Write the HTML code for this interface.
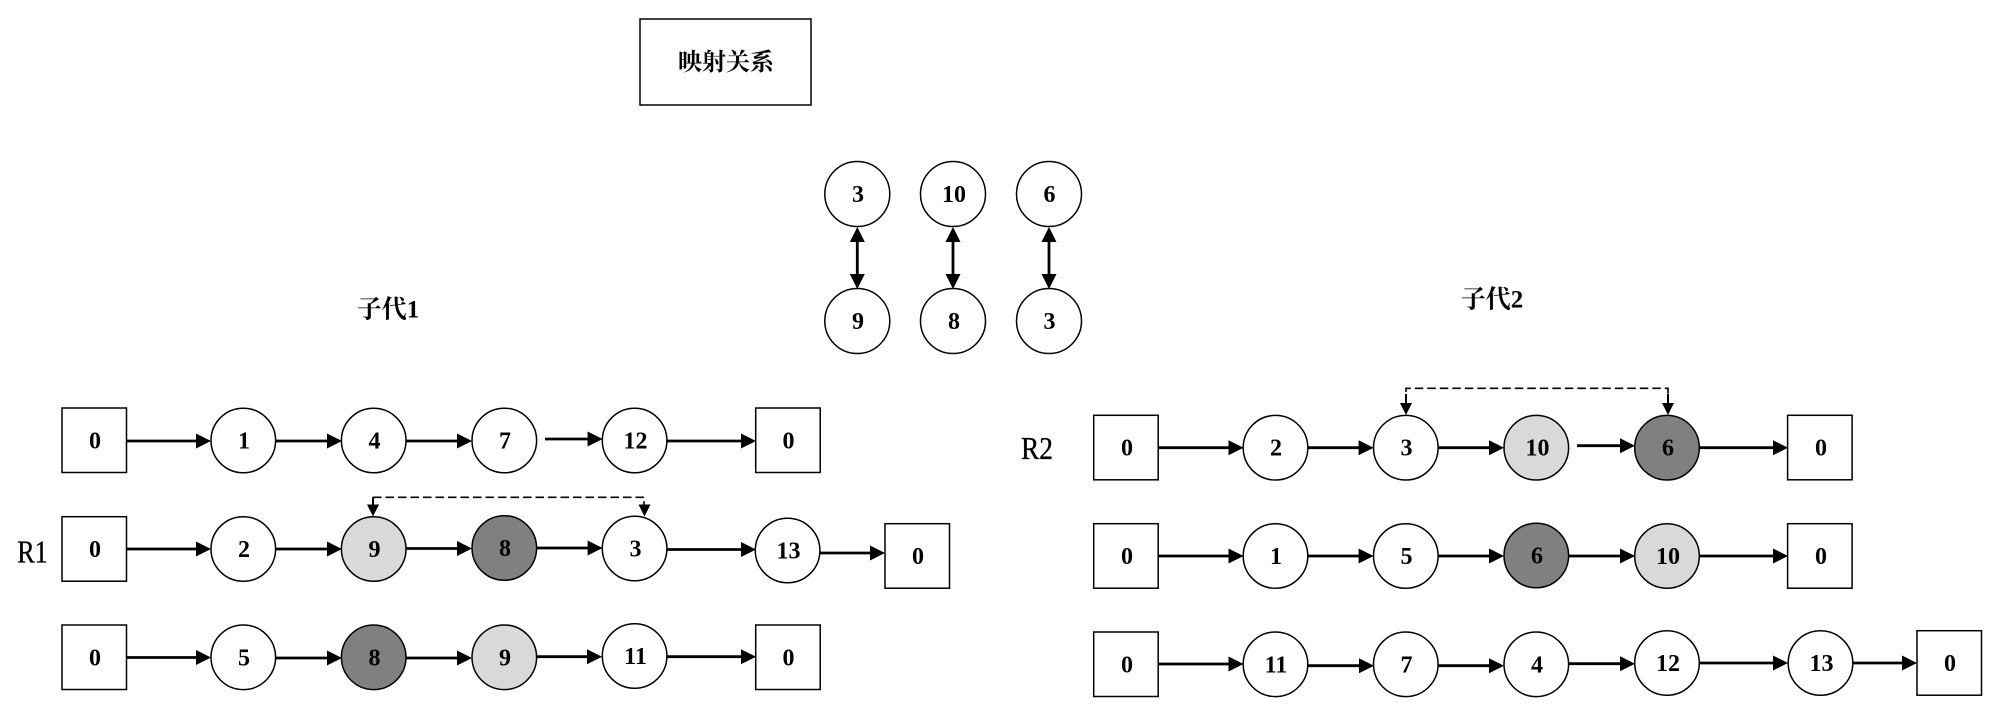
<!DOCTYPE html>
<html lang="zh">
<head>
<meta charset="utf-8">
<style>
html,body{margin:0;padding:0;background:#fff;width:2000px;height:713px;overflow:hidden}
svg{display:block}
text{font-family:"Liberation Serif","Noto Serif CJK SC",serif;fill:#000;text-anchor:middle;dominant-baseline:central;font-weight:bold;font-size:24px;transform:translateY(1px)}
.c{stroke:#000;stroke-width:1.5;fill:#fff}
.l{fill:#d9d9d9}.d{fill:#808080}
.r{stroke:#000;stroke-width:1.5;fill:#fff}
.a{stroke:#000;stroke-width:2.8;fill:none;marker-end:url(#h)}
.b{stroke:#000;stroke-width:2.8;fill:none;marker-end:url(#h2);marker-start:url(#h2s)}
.ds{stroke:#000;stroke-width:1.6;fill:none;stroke-dasharray:8.5 4}
.big{font-weight:normal;font-size:32px;stroke:#000;stroke-width:.35}
</style>
</head>
<body>
<svg width="2000" height="713" viewBox="0 0 2000 713" xmlns="http://www.w3.org/2000/svg">
<defs>
<marker id="h" markerUnits="userSpaceOnUse" markerWidth="16" markerHeight="16" refX="11" refY="7.5" orient="auto"><path d="M0 0L15 7.5L0 15Z" fill="#000"/></marker>
<marker id="h2" markerUnits="userSpaceOnUse" markerWidth="16" markerHeight="16" refX="10" refY="7.5" orient="auto"><path d="M0 0L15 7.5L0 15Z" fill="#000"/></marker>
<marker id="h2s" markerUnits="userSpaceOnUse" markerWidth="16" markerHeight="16" refX="5" refY="7.5" orient="auto"><path d="M15 0L0 7.5L15 15Z" fill="#000"/></marker>
</defs>

<!-- mapping box -->
<rect class="r" x="640" y="19" width="171" height="86"/>
<text x="726" y="61.8" style="font-size:24px">映射关系</text>

<line class="b" x1="857.3" y1="232" x2="857.3" y2="284"/>
<line class="b" x1="953" y1="232" x2="953" y2="284"/>
<line class="b" x1="1049" y1="232" x2="1049" y2="284"/>
<circle class="c" cx="857.3" cy="194" r="32.5"/><text x="858" y="194">3</text>
<circle class="c" cx="953" cy="194" r="32.5"/><text x="954" y="194">10</text>
<circle class="c" cx="1049" cy="194" r="32.5"/><text x="1049.5" y="194">6</text>
<circle class="c" cx="857.3" cy="321" r="32.5"/><text x="858" y="321">9</text>
<circle class="c" cx="953" cy="321" r="32.5"/><text x="954" y="321">8</text>
<circle class="c" cx="1049" cy="321" r="32.5"/><text x="1049.5" y="321">3</text>

<text x="388" y="309" style="font-size:25px">子代1</text>
<text x="1492" y="299" style="font-size:25px">子代2</text>
<text class="big" x="32.5" y="550.5" textLength="30.5" lengthAdjust="spacingAndGlyphs">R1</text>
<text class="big" x="1037" y="447" textLength="32" lengthAdjust="spacingAndGlyphs">R2</text>

<!-- R1 arrows -->
<line class="a" x1="127" y1="441" x2="207" y2="441"/>
<line class="a" x1="275" y1="441" x2="338" y2="441"/>
<line class="a" x1="406" y1="441" x2="468" y2="441"/>
<line class="a" x1="545" y1="439" x2="598.6" y2="439"/>
<line class="a" x1="667" y1="441" x2="752" y2="441"/>

<line class="a" x1="127" y1="549" x2="207" y2="549"/>
<line class="a" x1="275" y1="549" x2="338" y2="549"/>
<line class="a" x1="406" y1="548.5" x2="468" y2="548.5"/>
<line class="a" x1="536" y1="548" x2="598.6" y2="548"/>
<line class="a" x1="667" y1="549.5" x2="752" y2="549.5"/>
<line class="a" x1="820" y1="553" x2="881" y2="553"/>

<line class="a" x1="127" y1="657.5" x2="207" y2="657.5"/>
<line class="a" x1="275" y1="658" x2="338" y2="658"/>
<line class="a" x1="406" y1="658" x2="468" y2="658"/>
<line class="a" x1="536" y1="656.7" x2="598" y2="656.7"/>
<line class="a" x1="667" y1="656.7" x2="752" y2="656.7"/>

<!-- R1 row 1 -->
<rect class="r" x="62" y="408" width="64.5" height="64.5"/><text x="95" y="440.5">0</text>
<circle class="c" cx="243.3" cy="440.5" r="32.3"/><text x="244" y="440.5">1</text>
<circle class="c" cx="373.7" cy="440.5" r="32.3"/><text x="374.5" y="440.5">4</text>
<circle class="c" cx="504.3" cy="440.5" r="32.3"/><text x="505" y="440.5">7</text>
<circle class="c" cx="634.6" cy="440.5" r="32.3"/><text x="635.5" y="440.5">12</text>
<rect class="r" x="755.7" y="408" width="64.5" height="64.5"/><text x="788.5" y="440.5">0</text>

<!-- R1 row 2 -->
<rect class="r" x="62" y="516.7" width="64.5" height="64.5"/><text x="95" y="549">0</text>
<circle class="c" cx="243.3" cy="549" r="32.3"/><text x="244" y="549">2</text>
<circle class="c l" cx="373.7" cy="549" r="32.3"/><text x="374.5" y="549">9</text>
<circle class="c d" cx="504.3" cy="548" r="32.3"/><text x="505" y="548">8</text>
<circle class="c" cx="634.6" cy="548.5" r="32.3"/><text x="635.5" y="548.5">3</text>
<circle class="c" cx="787.6" cy="550.5" r="32.3"/><text x="788.5" y="550.5">13</text>
<rect class="r" x="885" y="523.7" width="64.5" height="64.5"/><text x="918" y="556">0</text>

<!-- R1 row 3 -->
<rect class="r" x="62" y="625" width="64.5" height="64.5"/><text x="95" y="657.3">0</text>
<circle class="c" cx="243.3" cy="657.3" r="32.3"/><text x="244" y="657.3">5</text>
<circle class="c d" cx="373.7" cy="657.3" r="32.3"/><text x="374.5" y="657.3">8</text>
<circle class="c l" cx="504.3" cy="657.3" r="32.3"/><text x="505" y="657.3">9</text>
<circle class="c" cx="634.6" cy="656" r="32.3"/><text x="635.5" y="656">11</text>
<rect class="r" x="755.7" y="625" width="64.5" height="64.5"/><text x="788.5" y="657.3">0</text>

<!-- R1 dashed -->
<path class="ds" d="M373 497.3H644V506"/>
<path d="M373 497.3V508" stroke="#000" stroke-width="2"/>
<path d="M367 504.5L373 516.5L379 504.5Z"/>
<path d="M638.5 504.5L644.5 516.5L650.5 504.5Z"/>

<!-- R2 arrows -->
<line class="a" x1="1158" y1="447.7" x2="1239.5" y2="447.7"/>
<line class="a" x1="1307.5" y1="447.7" x2="1369.6" y2="447.7"/>
<line class="a" x1="1438" y1="447.7" x2="1500" y2="447.7"/>
<line class="a" x1="1577" y1="445.7" x2="1631" y2="445.7"/>
<line class="a" x1="1699" y1="447.7" x2="1784" y2="447.7"/>

<line class="a" x1="1158" y1="556" x2="1239.5" y2="556"/>
<line class="a" x1="1307.5" y1="556" x2="1369.6" y2="556"/>
<line class="a" x1="1438" y1="556" x2="1500" y2="556"/>
<line class="a" x1="1568" y1="556" x2="1631" y2="556"/>
<line class="a" x1="1699" y1="556" x2="1784" y2="556"/>

<line class="a" x1="1158" y1="664" x2="1239.5" y2="664"/>
<line class="a" x1="1307.5" y1="665.7" x2="1370" y2="665.7"/>
<line class="a" x1="1438" y1="665.7" x2="1500" y2="665.7"/>
<line class="a" x1="1568" y1="663.7" x2="1631" y2="663.7"/>
<line class="a" x1="1699" y1="663" x2="1784" y2="663"/>
<line class="a" x1="1852" y1="663" x2="1913" y2="663"/>

<!-- R2 row 1 -->
<rect class="r" x="1093.7" y="415.3" width="64.5" height="64.5"/><text x="1127" y="447.7">0</text>
<circle class="c" cx="1275.5" cy="447.7" r="32.3"/><text x="1276" y="447.7">2</text>
<circle class="c" cx="1405.8" cy="447.7" r="32.3"/><text x="1406.5" y="447.7">3</text>
<circle class="c l" cx="1536.3" cy="447.7" r="32.3"/><text x="1537.5" y="447.7">10</text>
<circle class="c d" cx="1667" cy="447.7" r="32.3"/><text x="1668" y="447.7">6</text>
<rect class="r" x="1787.6" y="415.3" width="64.5" height="64.5"/><text x="1821" y="447.7">0</text>

<!-- R2 row 2 -->
<rect class="r" x="1093.7" y="523.7" width="64.5" height="64.5"/><text x="1127" y="556">0</text>
<circle class="c" cx="1275.5" cy="556" r="32.3"/><text x="1276" y="556">1</text>
<circle class="c" cx="1405.8" cy="556" r="32.3"/><text x="1406.5" y="556">5</text>
<circle class="c d" cx="1536.3" cy="555.5" r="32.3"/><text x="1537" y="555.5">6</text>
<circle class="c l" cx="1667" cy="556" r="32.3"/><text x="1668" y="556">10</text>
<rect class="r" x="1787.6" y="523.7" width="64.5" height="64.5"/><text x="1821" y="556">0</text>

<!-- R2 row 3 -->
<rect class="r" x="1093.7" y="632" width="64.5" height="64.5"/><text x="1127" y="664.3">0</text>
<circle class="c" cx="1275.5" cy="664.3" r="32.3"/><text x="1276" y="664.3">11</text>
<circle class="c" cx="1405.8" cy="664.3" r="32.3"/><text x="1406.5" y="664.3">7</text>
<circle class="c" cx="1536.3" cy="664.3" r="32.3"/><text x="1537" y="664.3">4</text>
<circle class="c" cx="1667" cy="663" r="32.3"/><text x="1668" y="663">12</text>
<circle class="c" cx="1820.5" cy="663" r="32.3"/><text x="1821.5" y="663">13</text>
<rect class="r" x="1917" y="630.7" width="64.5" height="64.5"/><text x="1950" y="663">0</text>

<!-- R2 dashed -->
<path class="ds" d="M1406 392V388.3H1668V404"/>
<path d="M1406 394V406" stroke="#000" stroke-width="2"/>
<path d="M1668 394V406" stroke="#000" stroke-width="2"/>
<path d="M1400 403L1406 415L1412 403Z"/>
<path d="M1662 403L1668 415L1674 403Z"/>
</svg>
</body>
</html>
